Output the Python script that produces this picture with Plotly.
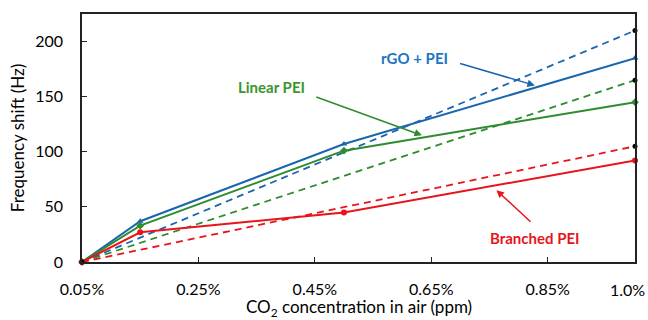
import plotly.graph_objects as go

# Data (x in % CO2)
x_pts = [0.05, 0.15, 0.5, 1.0]
rgo_pei = [0, 37, 107, 185]
linear_pei = [0, 33, 101, 145]
branched_pei = [0, 27, 45, 92]

x_fit = [0.05, 1.0]
rgo_fit = [0, 210]
linear_fit = [0, 165]
branched_fit = [0, 105]

tick_vals = [0.05, 0.25, 0.45, 0.65, 0.85, 1.0]
tick_text = ["0.05%", "0.25%", "0.45%", "0.65%", "0.85%", "1.0%"]
y_ticks = [0, 50, 100, 150, 200]
x_title = "CO<sub>2</sub> concentration in air (ppm)"
y_title = "Frequency shift (Hz)"

BLUE = "#1A66AE"
GREEN = "#2E8B2E"
RED = "#E8141B"
FONT = "Lato"

fig = go.Figure()

for yv, col in [(rgo_fit, BLUE), (linear_fit, GREEN), (branched_fit, RED)]:
    fig.add_trace(go.Scatter(x=x_fit, y=yv, mode="lines+markers",
                             line=dict(color=col, width=1.8, dash="7px,5px"),
                             marker=dict(color="black", size=5),
                             cliponaxis=False, showlegend=False))

for yv, col, sym in [(rgo_pei, BLUE, "triangle-up"), (linear_pei, GREEN, "diamond"),
                     (branched_pei, RED, "circle")]:
    fig.add_trace(go.Scatter(x=x_pts, y=yv, mode="lines+markers",
                             line=dict(color=col, width=2),
                             marker=dict(color=col, size=6, symbol=sym),
                             cliponaxis=False, showlegend=False))

# black origin dot
fig.add_trace(go.Scatter(x=[x_fit[0]], y=[0], mode="markers",
                         marker=dict(color="black", size=5), cliponaxis=False,
                         showlegend=False))

ann = []
ann.append(dict(x=0.622, y=185.5, text="<b>rGO + PEI</b>", showarrow=False,
                font=dict(color="#1C74C4", size=15, family=FONT)))
ann.append(dict(x=0.376, y=158.4, text="<b>Linear PEI</b>", showarrow=False,
                font=dict(color="#3A962A", size=15, family=FONT)))
ann.append(dict(x=0.829, y=21.7, text="<b>Branched PEI</b>", showarrow=False,
                font=dict(color=RED, size=15, family=FONT)))
for hx, hy, tx, ty, col in [(0.828, 160.2, 0.697, 180.5, BLUE),
                            (0.634, 114.9, 0.45, 150.2, GREEN),
                            (0.762, 65.2, 0.823, 35.3, RED)]:
    ann.append(dict(x=hx, y=hy, ax=tx, ay=ty, axref="x", ayref="y", text="",
                    showarrow=True, arrowhead=2, arrowsize=1, arrowwidth=1.5,
                    arrowcolor=col))
# last x tick label (sits slightly inside the right edge, as in the original)
ann.append(dict(x=1.0, y=0, xref="x", yref="paper", text=tick_text[-1],
                showarrow=False, xanchor="right", yanchor="top", xshift=12,
                yshift=-16, font=dict(size=16, family=FONT, color="black")))
# x-axis title
ann.append(dict(x=0.5, y=0, xref="paper", yref="paper", text=x_title,
                showarrow=False, xanchor="center", yanchor="top", yshift=-32,
                font=dict(size=17, family=FONT, color="black")))

fig.update_layout(
    width=648, height=320,
    margin=dict(l=82, r=13, t=14, b=58),
    paper_bgcolor="white", plot_bgcolor="white",
    font=dict(family=FONT, size=16, color="black"),
    annotations=ann,
    xaxis=dict(range=[0.05, 1.0], tickvals=tick_vals[:-1], ticktext=tick_text[:-1],
               showgrid=False, zeroline=False, showline=True, linecolor="#222",
               linewidth=1.5, mirror=True, ticks="inside", ticklen=5,
               tickcolor="#222", tickfont=dict(size=16), ticklabelstandoff=12,
               automargin=False),
    yaxis=dict(range=[0, 225], tickvals=y_ticks, showgrid=False, zeroline=False,
               showline=True, linecolor="#222", linewidth=1.5, mirror=True,
               ticks="inside", ticklen=5, tickcolor="#222",
               tickfont=dict(size=16), ticklabelstandoff=14, automargin=False,
               title=dict(text=y_title, font=dict(size=17), standoff=6)),
)

fig.write_html("out.html")
